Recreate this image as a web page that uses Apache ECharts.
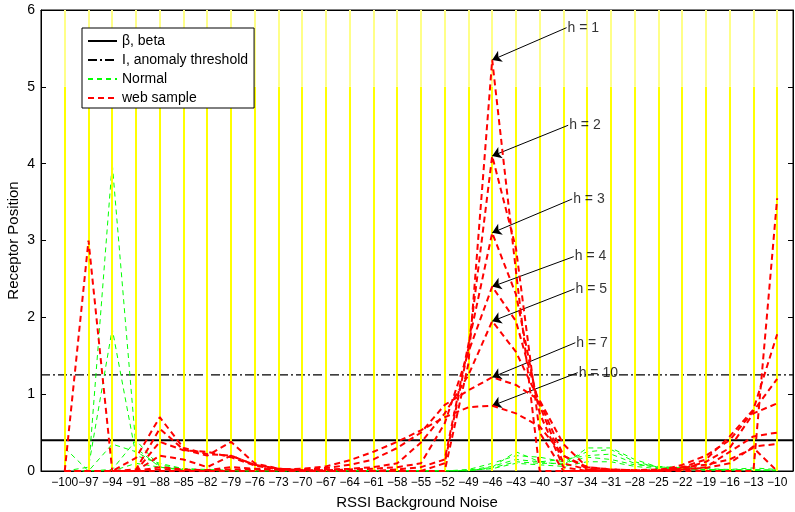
<!DOCTYPE html>
<html>
<head>
<meta charset="utf-8">
<script src="https://cdn.jsdelivr.net/npm/echarts@6/dist/echarts.min.js"></script>
<style>
  html, body { margin: 0; padding: 0; background: #fff; }
  #chart { width: 795px; height: 512px; }
</style>
</head>
<body>
<div id="chart"></div>
<script>
// tick positions on the RSSI axis (also where every sample was taken)
const xTicks = [-100, -97, -94, -91, -88, -85, -82, -79, -76, -73, -70, -67, -64, -61, -58, -55,
  -52, -49, -46, -43, -40, -37, -34, -31, -28, -25, -22, -19, -16, -13, -10];
const yTicks = [0, 1, 2, 3, 4, 5, 6];

const betaLevel = 0.4;
const thresholdLevel = 1.25;

// web sample curves, one per window h
const webH1 = [0, 3.0, 0, 0, 0, 0, 0, 0, 0, 0, 0, 0, 0, 0, 0, 0, 0, 1.4, 5.35, 2.6, 0, 0, 0, 0, 0, 0, 0, 0, 0, 0, 3.55];
const webH2 = [0, 0, 0, 0.17, 0.7, 0.3, 0.22, 0.2, 0.08, 0.03, 0, 0, 0, 0, 0, 0, 0.1, 1.6, 4.1, 2.9, 0.5, 0, 0, 0, 0, 0, 0.05, 0.15, 0.45, 0.8, 1.78];
const webH3 = [0, 0, 0, 0.02, 0.55, 0.28, 0.2, 0.38, 0.1, 0.03, 0.01, 0, 0, 0, 0.02, 0.05, 0.15, 1.65, 3.1, 2.3, 0.75, 0.05, 0, 0, 0, 0, 0.08, 0.2, 0.4, 0.78, 1.2];
const webH4 = [0, 0, 0, 0, 0.38, 0.27, 0.25, 0.18, 0.07, 0.02, 0.01, 0.01, 0.02, 0.03, 0.05, 0.1, 0.62, 1.55, 2.4, 1.95, 0.85, 0.1, 0.02, 0, 0, 0, 0.03, 0.12, 0.3, 0.75, 0.88];
const webH5 = [0, 0, 0, 0, 0.2, 0.15, 0.05, 0.2, 0.08, 0.03, 0.01, 0.02, 0.03, 0.05, 0.1, 0.37, 0.75, 1.25, 1.95, 1.55, 0.9, 0.2, 0.03, 0.01, 0, 0, 0.02, 0.05, 0.25, 0.45, 0.5];
const webH7 = [0, 0, 0, 0, 0.05, 0.02, 0.01, 0.05, 0.03, 0.02, 0.02, 0.04, 0.08, 0.15, 0.3, 0.5, 0.86, 1.05, 1.22, 1.12, 0.92, 0.35, 0.05, 0.02, 0.01, 0.01, 0.02, 0.04, 0.1, 0.32, 0.35];
const webH10 = [0, 0, 0, 0, 0.02, 0.01, 0.01, 0.02, 0.02, 0.02, 0.03, 0.06, 0.14, 0.25, 0.38, 0.53, 0.7, 0.83, 0.85, 0.75, 0.58, 0.2, 0.05, 0.02, 0.01, 0.02, 0.05, 0.08, 0.15, 0.3, 0];

// normal traffic curves
const normal1 = [0, 0, 4.0, 0.3, 0.05, 0.02, 0.01, 0, 0, 0, 0, 0, 0, 0, 0, 0, 0, 0, 0.05, 0.25, 0.12, 0.08, 0.3, 0.3, 0.15, 0.05, 0.03, 0.02, 0.01, 0.02, 0.01];
const normal2 = [0, 0.05, 1.85, 0.2, 0.1, 0.03, 0.01, 0, 0, 0, 0, 0, 0, 0, 0, 0, 0, 0.02, 0.1, 0.2, 0.18, 0.12, 0.25, 0.28, 0.12, 0.05, 0.05, 0.03, 0.02, 0.04, 0.02];
const normal3 = [0.3, 0, 0.35, 0.25, 0.08, 0.03, 0.02, 0.01, 0, 0, 0, 0, 0, 0, 0, 0, 0, 0.01, 0.06, 0.15, 0.12, 0.15, 0.2, 0.22, 0.1, 0.04, 0.03, 0.02, 0.02, 0.01, 0.01];
const normal4 = [0, 0, 0.02, 0.4, 0.06, 0.02, 0.01, 0, 0, 0, 0, 0, 0, 0, 0, 0, 0, 0, 0.04, 0.12, 0.1, 0.1, 0.18, 0.15, 0.08, 0.06, 0.04, 0.02, 0.01, 0.01, 0.01];
const normal5 = [0, 0, 0, 0.1, 0.05, 0.01, 0, 0, 0, 0, 0, 0, 0, 0, 0, 0, 0, 0.01, 0.03, 0.1, 0.08, 0.06, 0.12, 0.12, 0.06, 0.03, 0.02, 0.01, 0.01, 0.01, 0];

// arrow annotations: label, text anchor (x, y), peak pointed at (x, y)
const annoLabels = ["h = 1", "h = 2", "h = 3", "h = 4", "h = 5", "h = 7", "h = 10"];
const annoTextX = [-36.6, -36.4, -35.9, -35.7, -35.6, -35.5, -35.2];
const annoTextY = [5.77, 4.5, 3.54, 2.79, 2.37, 1.67, 1.28];
const annoPeakX = [-46, -46, -46, -46, -46, -46, -46];
const annoPeakY = [5.35, 4.1, 3.1, 2.4, 1.95, 1.22, 0.85];

const webSeries = [webH1, webH2, webH3, webH4, webH5, webH7, webH10];
const normalSeries = [normal1, normal2, normal3, normal4, normal5];

const toPoints = vals => xTicks.map((x, i) => [x, vals[i]]);
const FONT = "Liberation Sans";

let myChart = echarts.init(document.getElementById("chart"));

const series = [];

// yellow guide lines at every tick
series.push({
  type: "line",
  data: [[xTicks[0], 0]],
  symbol: "none",
  silent: true,
  z: 1,
  lineStyle: { width: 0 },
  markLine: {
    silent: true,
    symbol: ["none", "none"],
    label: { show: false },
    animation: false,
    data: xTicks.flatMap(x => [
      [{ coord: [x, 0], lineStyle: { color: "#ffff00", width: 2, type: "solid" } }, { coord: [x, 5] }],
      [{ coord: [x, 5], lineStyle: { color: "#ffff88", width: 2, type: "solid" } }, { coord: [x, 6] }]
    ])
  }
});

series.push({
  name: "β, beta",
  type: "line",
  data: [[-103, betaLevel], [-8, betaLevel]],
  symbol: "none",
  z: 3,
  lineStyle: { color: "#000", width: 2, type: "solid" },
  itemStyle: { color: "#000" }
});
series.push({
  name: "I, anomaly threshold",
  type: "line",
  data: [[-103, thresholdLevel], [-8, thresholdLevel]],
  symbol: "none",
  z: 3,
  lineStyle: { color: "#000", width: 1.3, type: [9, 3, 2, 3] },
  itemStyle: { color: "#000" }
});

normalSeries.forEach(vals => {
  series.push({
    name: "Normal",
    type: "line",
    data: toPoints(vals),
    symbol: "none",
    z: 4,
    lineStyle: { color: "#00ff00", width: 1, type: [5, 4] },
    itemStyle: { color: "#00ff00" }
  });
});

webSeries.forEach(vals => {
  series.push({
    name: "web sample",
    type: "line",
    data: toPoints(vals),
    symbol: "none",
    z: 5,
    lineStyle: { color: "#ff0000", width: 2, type: [6, 4] },
    itemStyle: { color: "#ff0000" }
  });
});

// arrows
series.push({
  type: "line",
  data: [[annoPeakX[0], annoPeakY[0]]],
  symbol: "none",
  silent: true,
  z: 6,
  lineStyle: { width: 0 },
  markLine: {
    silent: true,
    symbol: ["none", "arrow"],
    symbolSize: 9,
    label: { show: false },
    lineStyle: { color: "#000", width: 1, type: "solid" },
    animation: false,
    data: annoLabels.map((_, i) => [
      { coord: [annoTextX[i], annoTextY[i]] },
      { coord: [annoPeakX[i], annoPeakY[i]] }
    ])
  }
});
// arrow texts
series.push({
  type: "scatter",
  symbolSize: 0,
  silent: true,
  z: 7,
  data: annoLabels.map((t, i) => [annoTextX[i], annoTextY[i], t]),
  label: {
    show: true,
    position: "right",
    distance: 1,
    formatter: p => p.data[2],
    color: "#000",
    fontFamily: FONT,
    fontSize: 14
  }
});

myChart.setOption({
  animation: false,
  textStyle: { fontFamily: FONT },
  grid: {
    left: 41, right: 2, top: 10, bottom: 41,
    show: true, borderColor: "#000", borderWidth: 1,
    containLabel: false,
    outerBoundsMode: "none"
  },
  legend: {
    data: ["β, beta", "I, anomaly threshold", "Normal", "web sample"],
    orient: "vertical",
    left: 82,
    top: 28,
    itemWidth: 29,
    itemHeight: 14,
    itemGap: 5,
    padding: [6, 6, 3, 5],
    backgroundColor: "#fff",
    borderColor: "#000",
    borderWidth: 1,
    borderRadius: 0,
    z: 20,
    itemStyle: { opacity: 0 },
    textStyle: { fontFamily: FONT, fontSize: 14, color: "#000" }
  },
  xAxis: [
    {
      type: "value",
      min: -103,
      max: -8,
      position: "bottom",
      name: "RSSI Background Noise",
      nameLocation: "middle",
      nameGap: 24,
      nameMoveOverlap: false,
      nameTextStyle: { fontFamily: FONT, fontSize: 15, color: "#000", verticalAlign: "top" },
      axisLine: { show: true, onZero: false, lineStyle: { color: "#000", width: 1 } },
      axisTick: { show: true, inside: true, length: 5, customValues: xTicks, lineStyle: { color: "#000" } },
      axisLabel: {
        customValues: xTicks,
        margin: 6,
        fontSize: 12,
        color: "#000",
        fontFamily: FONT,
        hideOverlap: false,
        formatter: v => (v < 0 ? "\u2212" + Math.abs(v) : String(v))
      },
      splitLine: { show: false }
    },
    {
      type: "value",
      min: -103,
      max: -8,
      position: "top",
      axisLine: { show: true, onZero: false, lineStyle: { color: "#000", width: 1 } },
      axisTick: { show: true, inside: true, length: 5, customValues: xTicks, lineStyle: { color: "#000" } },
      axisLabel: { show: false },
      splitLine: { show: false }
    }
  ],
  yAxis: [
    {
      type: "value",
      min: yTicks[0],
      max: yTicks[yTicks.length - 1],
      interval: 1,
      position: "left",
      name: "Receptor Position",
      nameLocation: "middle",
      nameGap: 20,
      nameMoveOverlap: false,
      nameTextStyle: { fontFamily: FONT, fontSize: 15, color: "#000" },
      axisLine: { show: true, onZero: false, lineStyle: { color: "#000", width: 1 } },
      axisTick: { show: true, inside: true, length: 5, lineStyle: { color: "#000" } },
      axisLabel: { margin: 6, fontSize: 14, color: "#000", fontFamily: FONT },
      splitLine: { show: false }
    },
    {
      type: "value",
      min: yTicks[0],
      max: yTicks[yTicks.length - 1],
      interval: 1,
      position: "right",
      axisLine: { show: true, onZero: false, lineStyle: { color: "#000", width: 1 } },
      axisTick: { show: true, inside: true, length: 5, lineStyle: { color: "#000" } },
      axisLabel: { show: false },
      splitLine: { show: false }
    }
  ],
  series: series
});
</script>
</body>
</html>
